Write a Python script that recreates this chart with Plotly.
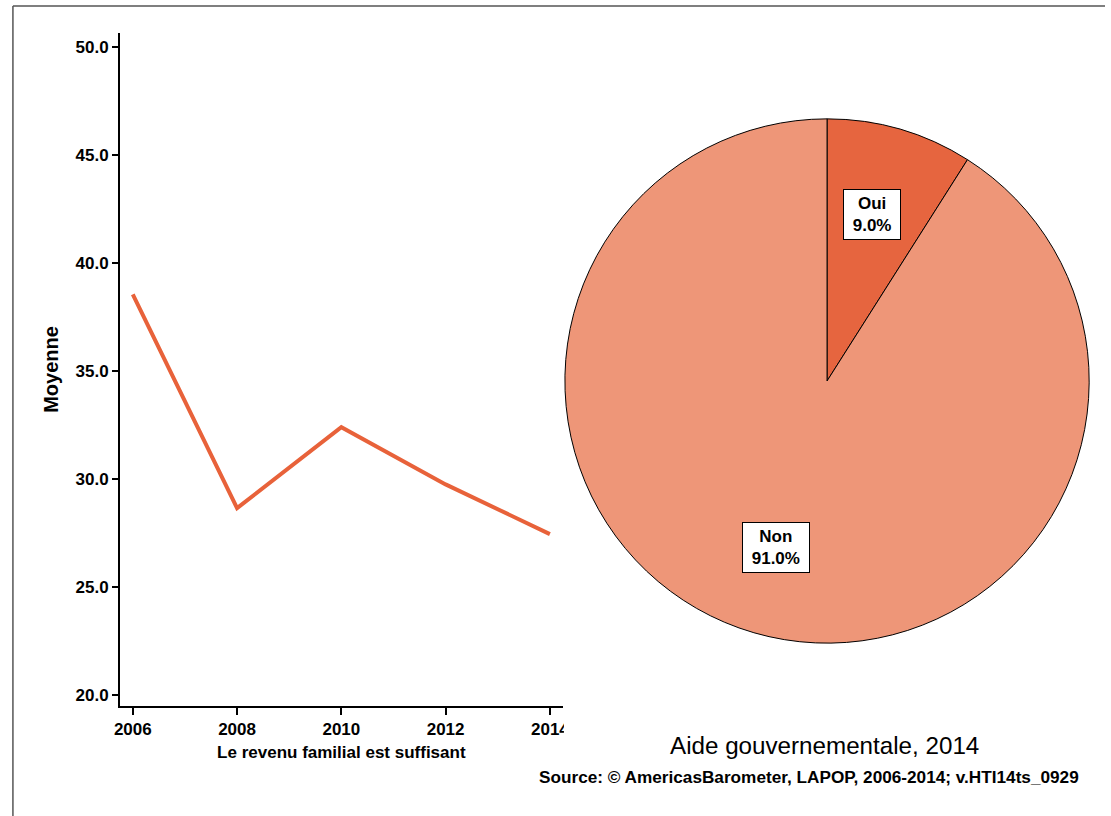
import math
import plotly.graph_objects as go

# ---- data ----
years = [2006, 2008, 2010, 2012, 2014]
moyenne = [38.55, 28.65, 32.4, 29.75, 27.45]
y_ticks = [20.0, 25.0, 30.0, 35.0, 40.0, 45.0, 50.0]
x_ticks = [2006, 2008, 2010, 2012, 2014]

pie_labels = ["Oui", "Non"]
pie_values = [9.0, 91.0]
pie_colors = ["#E6653F", "#EE9678"]

W, H = 1111, 816
FONT = "Liberation Sans, Arial, Helvetica, sans-serif"
LINE_COLOR = "#E8623A"

def px_x(p):
    return p / W

def px_y(p):
    return (H - p) / H

fig = go.Figure()

fig.add_trace(go.Scatter(
    x=years, y=moyenne, mode="lines",
    line=dict(color=LINE_COLOR, width=4),
    hoverinfo="x+y", showlegend=False,
))

# pie geometry (pixels): visual centre and radius
cx, cy, r = 827, 381, 262
# plotly draws the pie slightly inside / left of its domain box
dom_cx, dom_r = cx + 3, r + 3

fig.add_trace(go.Pie(
    labels=pie_labels, values=pie_values,
    marker=dict(colors=pie_colors, line=dict(color="black", width=1)),
    textinfo="none", sort=False, direction="clockwise", rotation=0,
    domain=dict(x=[px_x(dom_cx - dom_r), px_x(dom_cx + dom_r)],
                y=[px_y(cy + dom_r), px_y(cy - dom_r)]),
    showlegend=False, hoverinfo="label+percent",
))

annotations = []
total = sum(pie_values)
cum = 0.0
for lab, val in zip(pie_labels, pie_values):
    mid = (cum + val / 2) / total * 2 * math.pi
    cum += val
    lx = cx + 0.66 * r * math.sin(mid)
    ly = cy - 0.66 * r * math.cos(mid)
    annotations.append(dict(
        x=px_x(lx), y=px_y(ly), xref="paper", yref="paper",
        text=f"<b>&nbsp;{lab}&nbsp;<br>&nbsp;{val / total * 100:.1f}%&nbsp;</b>",
        showarrow=False,
        font=dict(family=FONT, size=17, color="black"),
        bgcolor="white", bordercolor="black", borderwidth=1, borderpad=4,
        align="center", xanchor="center", yanchor="middle",
    ))

annotations.append(dict(
    x=px_x(827), y=px_y(745), xref="paper", yref="paper",
    text="Aide gouvernementale, 2014", showarrow=False,
    font=dict(family=FONT, size=24.2, color="black"),
    xanchor="center", yanchor="middle",
))
annotations.append(dict(
    x=px_x(812), y=px_y(777), xref="paper", yref="paper",
    text="<b>Source: © AmericasBarometer, LAPOP, 2006-2014; v.HTI14ts_0929</b>",
    showarrow=False, font=dict(family=FONT, size=17.2, color="black"),
    xanchor="center", yanchor="middle",
))

shapes = [
    # outer frame (top and left edges)
    dict(type="line", xref="paper", yref="paper",
         x0=px_x(7), x1=1.0, y0=px_y(6), y1=px_y(6),
         line=dict(color="#555555", width=1.5)),
    dict(type="line", xref="paper", yref="paper",
         x0=px_x(7), x1=px_x(7), y0=px_y(6), y1=0.0,
         line=dict(color="#555555", width=1.5)),
    # panel clip over last tick label
    dict(type="rect", xref="paper", yref="paper", layer="above",
         x0=px_x(564), x1=px_x(600), y0=px_y(740), y1=px_y(714),
         fillcolor="white", line=dict(width=0)),
]

fig.update_layout(
    width=W, height=H,
    margin=dict(l=0, r=0, t=0, b=0),
    paper_bgcolor="white", plot_bgcolor="white",
    font=dict(family=FONT, color="black"),
    xaxis=dict(
        domain=[px_x(115), px_x(563)],
        range=[2005.75, 2014.25],
        tickmode="array", tickvals=x_ticks, ticktext=[str(t) for t in x_ticks],
        ticks="outside", ticklen=7, tickwidth=1.5, tickcolor="black",
        showline=True, linecolor="black", linewidth=1.5,
        showgrid=False, zeroline=False,
        tickfont=dict(family=FONT, size=17, color="black", weight="bold"),
        title=dict(text="<b>Le revenu familial est suffisant</b>",
                   font=dict(family=FONT, size=17, color="black"), standoff=8),
    ),
    yaxis=dict(
        domain=[px_y(706), px_y(33)],
        range=[19.49, 50.65],
        tickmode="array", tickvals=y_ticks, ticktext=[f"{t:.1f}" for t in y_ticks],
        ticks="outside", ticklen=6, tickwidth=1.5, tickcolor="black",
        showline=True, linecolor="black", linewidth=1.5,
        showgrid=False, zeroline=False,
        tickfont=dict(family=FONT, size=17, color="black", weight="bold"),
        title=dict(text="<b>Moyenne</b>",
                   font=dict(family=FONT, size=20, color="black"), standoff=12),
    ),
    annotations=annotations,
    shapes=shapes,
)

fig.write_html(
    "out.html",
    config={"displayModeBar": False},
    post_script="document.body.style.margin='0';document.body.style.overflow='hidden';",
)
